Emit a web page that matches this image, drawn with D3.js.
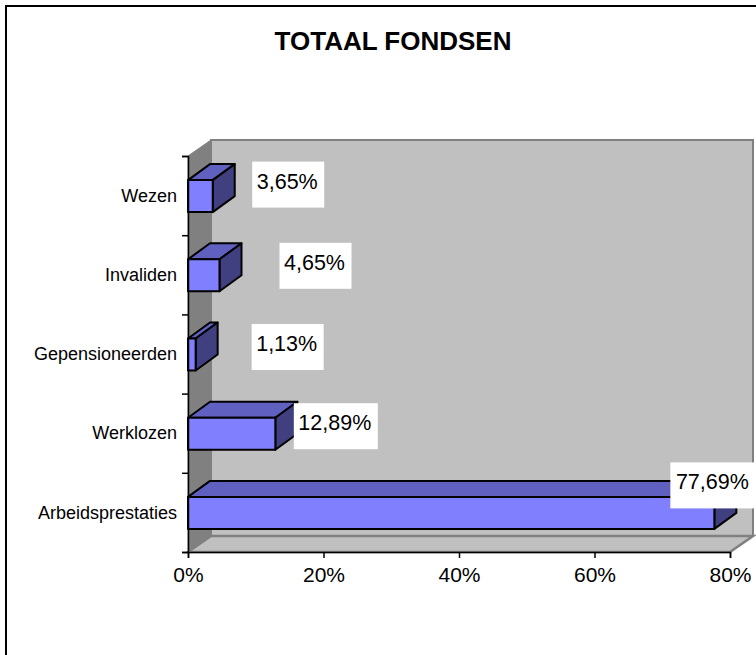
<!DOCTYPE html>
<html>
<head>
<meta charset="utf-8">
<script src="https://cdn.jsdelivr.net/npm/d3@7"></script>
<style>
	html, body { margin: 0; padding: 0; background: #fff; }
	svg { display: block; }
	text { font-family: "Liberation Sans", Arial, sans-serif; fill: #000; }
</style>
</head>
<body>
<div id="chart"></div>
<script>
const title = "TOTAAL FONDSEN";
const categories = ["Wezen", "Invaliden", "Gepensioneerden", "Werklozen", "Arbeidsprestaties"];
const values = [3.65, 4.65, 1.13, 12.89, 77.69];
const valueLabels = ["3,65%", "4,65%", "1,13%", "12,89%", "77,69%"];
const xTicks = [0, 20, 40, 60, 80];

// hand placed data labels, relative to the bar end and the top of the bar
const labelDx = [39.5, 60, 56, 18.5, -44];
const labelDy = [-18.5, -16.5, -14.5, -14.5, -34.5];
const labelW = [72, 72, 72, 84, 86];

const width = 756, height = 655;
const plotLeft = 188, plotRight = 730, plotTop = 156, plotBottom = 552;
const depthX = 23, depthY = -16;
const barDepthX = 22, barDepthY = -16;

const x = d3.scaleLinear().domain([0, 80]).range([plotLeft, plotRight]);
const y = d3.scaleBand().domain(categories).range([plotTop + 0.5, plotBottom + 0.5]).paddingInner(0.596).paddingOuter(0.298);
const yEdges = d3.scaleLinear().domain([0, categories.length]).range([plotTop, plotBottom]);

const svg = d3.select("#chart").append("svg")
	.attr("width", width)
	.attr("height", height);

// frame, only left and top fall inside the picture
svg.append("path")
	.attr("d", `M6,${height}V6H${width}`)
	.attr("fill", "none")
	.attr("stroke", "#000")
	.attr("stroke-width", 2);

svg.append("text")
	.attr("x", 393)
	.attr("y", 50)
	.attr("text-anchor", "middle")
	.style("font-size", "26px")
	.style("font-weight", "bold")
	.text(title);

function poly(points, fill, stroke, sw) {
	return svg.append("polygon")
		.attr("points", points.map((p) => p.join(",")).join(" "))
		.attr("fill", fill)
		.attr("stroke", stroke)
		.attr("stroke-width", sw)
		.attr("stroke-linejoin", "miter");
}

// back wall, side wall and floor
poly([[plotLeft + depthX, plotTop + depthY], [plotRight + depthX, plotTop + depthY], [plotRight + depthX, plotBottom + depthY], [plotLeft + depthX, plotBottom + depthY]], "#c0c0c0", "#808080", 2);
poly([[plotLeft, plotTop], [plotLeft + depthX, plotTop + depthY], [plotLeft + depthX, plotBottom + depthY], [plotLeft, plotBottom]], "#808080", "#808080", 1);
poly([[plotLeft, plotBottom], [plotLeft + depthX, plotBottom + depthY], [plotRight + depthX, plotBottom + depthY], [plotRight, plotBottom]], "#c0c0c0", "#808080", 2.5);

// bars
const bars = svg.append("g").selectAll("g")
	.data(categories)
	.enter()
	.append("g");

bars.each(function (d, i) {
	const x0 = x(0), x1 = x(values[i]);
	const y0 = y(d), y1 = y(d) + y.bandwidth();
	const g = d3.select(this);
	const face = (points, fill) => g.append("polygon")
		.attr("points", points.map((p) => p.join(",")).join(" "))
		.attr("fill", fill)
		.attr("stroke", "#000")
		.attr("stroke-width", 2)
		.attr("stroke-linejoin", "round");
	face([[x0, y0], [x0 + barDepthX, y0 + barDepthY], [x1 + barDepthX, y0 + barDepthY], [x1, y0]], "#6060c0");
	face([[x1, y0], [x1 + barDepthX, y0 + barDepthY], [x1 + barDepthX, y1 + barDepthY], [x1, y1]], "#404080");
	face([[x0, y0], [x1, y0], [x1, y1], [x0, y1]], "#8080ff");
});

// axes
const xAxis = svg.append("g")
	.attr("transform", `translate(0,${plotBottom})`)
	.call(d3.axisBottom(x).tickValues(xTicks).tickSize(6).tickPadding(9).tickFormat((d) => d + "%"));
xAxis.selectAll("text").style("font-size", "21px");

const yTicks = svg.append("g")
	.attr("transform", `translate(${plotLeft},0)`)
	.call(d3.axisLeft(yEdges).ticks(categories.length).tickSize(6).tickFormat(""));

const yAxis = svg.append("g")
	.attr("transform", `translate(${plotLeft},0)`)
	.call(d3.axisLeft(y).tickSize(0).tickPadding(11));
yAxis.select(".domain").remove();
yAxis.selectAll("text").style("font-size", "18px");

svg.selectAll(".domain, .tick line")
	.attr("stroke", "#000")
	.attr("stroke-width", 1.5);

// data labels, white boxes on top of everything
const labels = svg.append("g").selectAll("g")
	.data(categories)
	.enter()
	.append("g")
	.attr("transform", (d, i) => `translate(${x(values[i]) + labelDx[i]},${y(d) + labelDy[i]})`);

labels.append("rect")
	.attr("width", (d, i) => labelW[i])
	.attr("height", 46)
	.attr("fill", "#fff");

labels.append("text")
	.attr("x", (d, i) => labelW[i] / 2 - 1)
	.attr("y", 27)
	.attr("text-anchor", "middle")
	.style("font-size", "21.5px")
	.text((d, i) => valueLabels[i]);
</script>
</body>
</html>
